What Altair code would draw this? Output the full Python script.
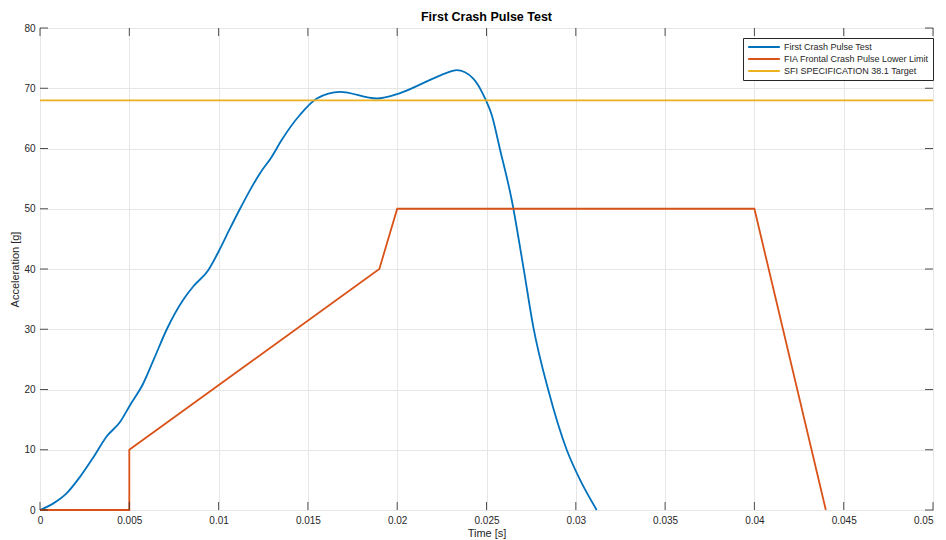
import altair as alt
import pandas as pd

# ---- data ----
pulse_t = [0, 0.00075, 0.0015, 0.00224, 0.003, 0.00373, 0.00448, 0.00504, 0.00578,
           0.0064, 0.0071, 0.00802, 0.00858, 0.00942, 0.0100, 0.0106, 0.0112, 0.01176,
           0.01232, 0.01297, 0.01353, 0.01456, 0.0155, 0.0168, 0.01885, 0.02016,
           0.0220, 0.0228, 0.02333, 0.02426, 0.02492, 0.02529, 0.02576, 0.02641,
           0.02706, 0.02762, 0.02846, 0.02949, 0.03024, 0.03117]
pulse_a = [0, 1.1, 2.8, 5.5, 8.8, 12.2, 14.6, 17.4, 21.0,
           25.2, 30, 34.9, 37.1, 39.8, 42.9, 46.5, 50, 53.1,
           55.9, 58.6, 61.4, 65.6, 68.3, 69.4, 68.3, 69.2,
           71.6, 72.6, 73.0, 71.6, 68.3, 65.6, 59.8, 51.5,
           40.4, 30.4, 19.9, 10, 5, 0]

fia_t = [0, 0.005, 0.005, 0.019, 0.020, 0.040, 0.044]
fia_a = [0, 0, 10, 40, 50, 50, 0]

sfi_t = [0, 0.05]
sfi_a = [68, 68]

x_ticks = [0, 0.005, 0.01, 0.015, 0.02, 0.025, 0.03, 0.035, 0.04, 0.045, 0.05]
y_ticks = [0, 10, 20, 30, 40, 50, 60, 70, 80]

names = ["First Crash Pulse Test", "FIA Frontal Crash Pulse Lower Limit",
         "SFI SPECIFICATION 38.1 Target"]
colors = ["#0072BD", "#D95319", "#EDB120"]

W, H = 893, 482
FONT = "Liberation Sans"
TXT = "#262626"

pulse_df = pd.DataFrame({"t": pulse_t, "a": pulse_a, "series": names[0], "o": range(len(pulse_t))})
fia_df = pd.DataFrame({"t": fia_t, "a": fia_a, "series": names[1], "o": range(len(fia_t))})
sfi_df = pd.DataFrame({"t": sfi_t, "a": sfi_a, "series": names[2], "o": range(len(sfi_t))})
xt_df = pd.DataFrame({"t": x_ticks})
yt_df = pd.DataFrame({"a": y_ticks})

xscale = alt.Scale(domain=[0, 0.05], nice=False, zero=False)
yscale = alt.Scale(domain=[0, 80], nice=False)
cscale = alt.Scale(domain=names, range=colors)

xaxis = alt.Axis(values=x_ticks, format="~g", title="Time [s]", grid=True, ticks=False,
                 domain=False, labelPadding=5, titlePadding=2,
                 labelAlign=alt.ExprRef("datum.value >= 0.0499 ? 'right' : 'center'"))
yaxis = alt.Axis(values=y_ticks, title="Acceleration [g]", grid=True, ticks=False,
                 domain=False, labelPadding=5, titlePadding=3)

legend = alt.Legend(title=None, orient="none", legendX=703, legendY=10,
                    symbolType="stroke", symbolSize=1000, symbolStrokeWidth=2,
                    clipHeight=10,
                    labelFontSize=9, labelFont=FONT, labelColor=TXT, labelOffset=3,
                    rowPadding=2, padding=4, fillColor="white", strokeColor="#262626",
                    labelLimit=300)

base_x = alt.X("t:Q", scale=xscale, axis=xaxis)
base_y = alt.Y("a:Q", scale=yscale, axis=yaxis)
color = alt.Color("series:N", scale=cscale, legend=legend)

blue = alt.Chart(pulse_df).mark_line(interpolate="monotone", strokeWidth=1.8).encode(
    x=base_x, y=base_y, color=color, order="o:Q")
orange = alt.Chart(fia_df).mark_line(strokeWidth=1.8).encode(
    x=base_x, y=base_y, color=color, order="o:Q")
yellow = alt.Chart(sfi_df).mark_line(strokeWidth=1.8).encode(
    x=base_x, y=base_y, color=color, order="o:Q")

tick_col = "#262626"
bot_ticks = alt.Chart(xt_df).mark_rule(color=tick_col, strokeWidth=0.8).encode(
    x=alt.X("t:Q", scale=xscale), y=alt.value(H), y2=alt.value(H - 8))
top_ticks = alt.Chart(xt_df).mark_rule(color=tick_col, strokeWidth=0.8).encode(
    x=alt.X("t:Q", scale=xscale), y=alt.value(0), y2=alt.value(8))
left_ticks = alt.Chart(yt_df).mark_rule(color=tick_col, strokeWidth=0.8).encode(
    y=alt.Y("a:Q", scale=yscale), x=alt.value(0), x2=alt.value(8))
right_ticks = alt.Chart(yt_df).mark_rule(color=tick_col, strokeWidth=0.8).encode(
    y=alt.Y("a:Q", scale=yscale), x=alt.value(W), x2=alt.value(W - 8))

chart = alt.layer(blue, orange, yellow, bot_ticks, top_ticks, left_ticks, right_ticks).properties(
    width=W, height=H,
    title=alt.TitleParams("First Crash Pulse Test", fontSize=12.5, font=FONT,
                          fontWeight="bold", color="#000000", offset=0),
    autosize=alt.AutoSizeParams(type="none"),
    padding={"left": 32, "top": 20, "right": 5, "bottom": 30},
).configure_view(
    stroke="#404040", strokeWidth=1
).configure_axis(
    labelFont=FONT, titleFont=FONT, labelFontSize=10, titleFontSize=11,
    labelColor=TXT, titleColor=TXT, titleFontWeight="normal",
    gridColor="#e6e6e6", gridWidth=1
).configure_axisX(labelFlush=False)

chart.save("out.html", embed_options={"renderer": "svg", "actions": False})
